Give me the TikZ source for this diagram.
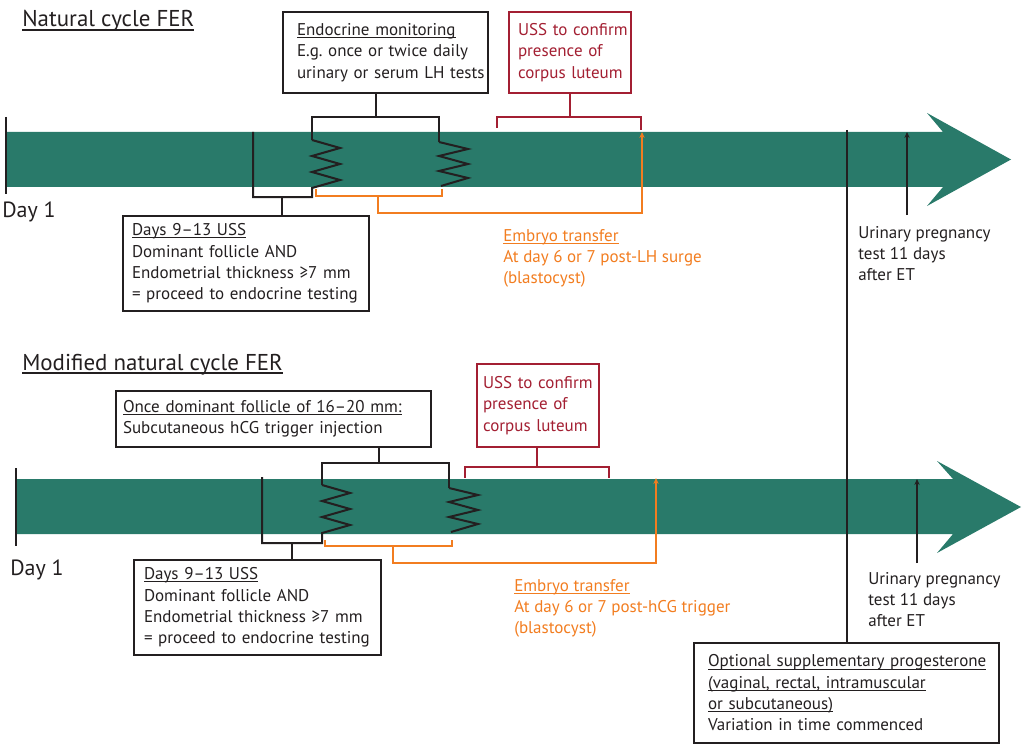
\documentclass[tikz,border=0pt]{standalone}
\usepackage{fontspec}
\setmainfont{PT Sans}
\usetikzlibrary{arrows.meta}
\frenchspacing
\definecolor{shaft}{RGB}{41,122,106}
\definecolor{dred}{RGB}{163,31,50}
\definecolor{orng}{RGB}{242,125,32}
\definecolor{ink}{RGB}{35,31,32}
\newcommand\bodyfont{\fontsize{12.75pt}{16pt}\selectfont}
\newcommand\titlefont{\fontsize{17.2pt}{20pt}\selectfont}
\newcommand\dayfont{\fontsize{16.5pt}{20pt}\selectfont}
\newcommand\myul[1]{\leavevmode\setbox0=\hbox{#1}\rlap{\rule[-0.16em]{\wd0}{0.065em}}\box0}
\begin{document}
\begin{tikzpicture}[x=0.75pt,y=-0.75pt,
  ln/.style={draw=ink,line width=1.5pt},
  rd/.style={draw=dred,line width=1.5pt},
  og/.style={draw=orng,line width=1.5pt},
  tip/.style={-{Stealth[length=4.5pt,width=4pt]}},
  box/.style={draw=ink,line width=1.5pt,anchor=north west,align=left,inner ysep=0pt,font=\bodyfont,text=ink},
  lbl/.style={anchor=base west,align=left,inner sep=0pt,font=\bodyfont,text=ink},
  ttl/.style={anchor=base west,inner sep=0pt,font=\titlefont,text=ink},
  dayl/.style={anchor=base west,inner sep=0pt,font=\dayfont,text=ink}]
\useasboundingbox (0,0) rectangle (1024,756);

% ---------- shafts ----------
\fill[shaft] (7,132) -- (943,132) -- (927,113) -- (1011,159.5) -- (927,206) -- (943,187) -- (7,187) -- cycle;
\fill[shaft] (17,479) -- (953,479) -- (937,461) -- (1021,507) -- (937,553) -- (953,534) -- (17,534) -- cycle;

% ---------- titles ----------
\node[ttl] (t1) at (22,27) {\myul{Natural cycle FER}};
\node[ttl] (t2) at (22,370) {\myul{Modified natural cycle FER}};
\node[dayl] (d1) at (2,217) {Day 1};
\node[dayl] (d2) at (10,575) {Day 1};
\coordinate (k1a) at (6,117); \coordinate (k1b) at (6,194);
\coordinate (k2a) at (16,468); \coordinate (k2b) at (16,546);
\draw[ln] (k1a) -- (k1b);
\draw[ln] (k2a) -- (k2b);

% ================= TOP =================
\node[box,minimum height=60.75pt,inner xsep=10.5pt,text width=132.75pt] (endoA) at (282,11)
  {\myul{Endocrine monitoring}\\\mbox{E.g. once or twice daily}\\\mbox{urinary or serum LH tests}};
\node[box,draw=dred,text=dred,minimum height=60.75pt,inner xsep=6.75pt,text width=78pt] (ussA) at (508,11)
  {\mbox{USS to confirm}\\\mbox{presence of}\\\mbox{corpus luteum}};
\node[box,minimum height=71.25pt,inner xsep=6.75pt,text width=171pt] (daysA) at (122,215)
  {\myul{Days 9–13 USS}\\\mbox{Dominant follicle AND}\\\mbox{Endometrial thickness ≥7 mm}\\\mbox{= proceed to endocrine testing}};
\node[lbl,text=orng] (embA) at (503,283.7) {\myul{Embryo transfer}\\At day 6 or 7 post-LH surge\\(blastocyst)};
\node[lbl] (urA) at (858,280.7) {Urinary pregnancy\\test 11 days\\after ET};

\coordinate (sA) at (376,117);
\coordinate (zA1) at (312,140);
\coordinate (zA2) at (439,142);
\coordinate (tA) at (253,132);
\coordinate (dsA) at (282,197);
\draw[ln] (endoA.south -| sA) -- (sA);
\draw[ln] (zA1) |- (sA) -| (zA2);
\draw[ln] (zA1) -- ++(28,8) -- ++(-28,8) -- ++(28,8) -- ++(-28,8) -- ++(28,8) -- ++(-28,8) -- ++(0,9) -| (tA);
\draw[ln] (dsA) -- (daysA.north -| dsA);
\draw[ln] (zA2) -- ++(29,7) -- ++(-29,7) -- ++(29,8) -- ++(-29,7) -- ++(29,7) -- ++(-27,8);

\coordinate (oA1) at (316,189);
\coordinate (oA2) at (442,189);
\coordinate (oAs) at (378,196);
\coordinate (etA) at (642,132);
\draw[og] (oA1) |- (oAs) -| (oA2);
\draw[og,tip] (oAs) -- ++(0,17) -| (etA);

\coordinate (rA) at (570,117);
\coordinate (rA1) at (497,128);
\coordinate (rA2) at (641,130);
\draw[rd] (ussA.south -| rA) -- (rA);
\draw[rd] (rA1) |- (rA) -| (rA2);

\coordinate (uA0) at (907,215);
\coordinate (uA1) at (907,132);
\draw[ln,tip] (uA0) -- (uA1);

% ================= BOTTOM =================
\node[box,minimum height=42pt,inner xsep=5.25pt,text width=225.75pt] (endoB) at (115,390)
  {\myul{Once dominant follicle of 16–20 mm:}\\\mbox{Subcutaneous hCG trigger injection}};
\node[box,draw=dred,text=dred,minimum height=62.25pt,inner xsep=4.5pt,text width=82.5pt] (ussB) at (476,363)
  {\mbox{USS to confirm}\\\mbox{presence of}\\\mbox{corpus luteum}};
\node[box,minimum height=71.25pt,inner xsep=7.5pt,text width=170.25pt] (daysB) at (133,559)
  {\myul{Days 9–13 USS}\\\mbox{Dominant follicle AND}\\\mbox{Endometrial thickness ≥7 mm}\\\mbox{= proceed to endocrine testing}};
\node[lbl,text=orng] (embB) at (514,633.7) {\myul{Embryo transfer}\\At day 6 or 7 post-hCG trigger\\(blastocyst)};
\node[lbl] (urB) at (868,626.7) {Urinary pregnancy\\test 11 days\\after ET};
\node[box,minimum height=75pt,inner xsep=10.5pt,text width=207.75pt] (optB) at (693,642)
  {\myul{Optional supplementary progesterone}\\\myul{(vaginal, rectal, intramuscular}\\\myul{or subcutaneous)}\\\mbox{Variation in time commenced}};

\coordinate (sB) at (379,463);
\coordinate (zB1) at (322,485);
\coordinate (zB2) at (449,488);
\coordinate (tB) at (262,477);
\coordinate (dsB) at (292,543);
\draw[ln] (endoB.south -| sB) -- (sB);
\draw[ln] (zB1) |- (sB) -| (zB2);
\draw[ln] (zB1) -- ++(28,8) -- ++(-28,8) -- ++(28,8) -- ++(-28,8) -- ++(28,8) -- ++(-28,8) -- ++(0,10) -| (tB);
\draw[ln] (dsB) -- (daysB.north -| dsB);
\draw[ln] (zB2) -- ++(29,7) -- ++(-29,7) -- ++(29,8) -- ++(-29,7) -- ++(29,7) -- ++(-27,8);

\coordinate (oB1) at (325,540);
\coordinate (oB2) at (452,540);
\coordinate (oBs) at (393,546);
\coordinate (etB) at (656,478);
\draw[og] (oB1) |- (oBs) -| (oB2);
\draw[og,tip] (oBs) -- ++(0,17) -| (etB);

\coordinate (rB) at (537,467);
\coordinate (rB1) at (465,478);
\coordinate (rB2) at (609,478);
\draw[rd] (ussB.south -| rB) -- (rB);
\draw[rd] (rB1) |- (rB) -| (rB2);

\coordinate (uB0) at (917,563);
\coordinate (uB1) at (917,479);
\draw[ln,tip] (uB0) -- (uB1);

% progesterone line
\coordinate (pT) at (847,130);
\draw[ln] (pT) -- (optB.north -| pT);
\end{tikzpicture}
\end{document}
